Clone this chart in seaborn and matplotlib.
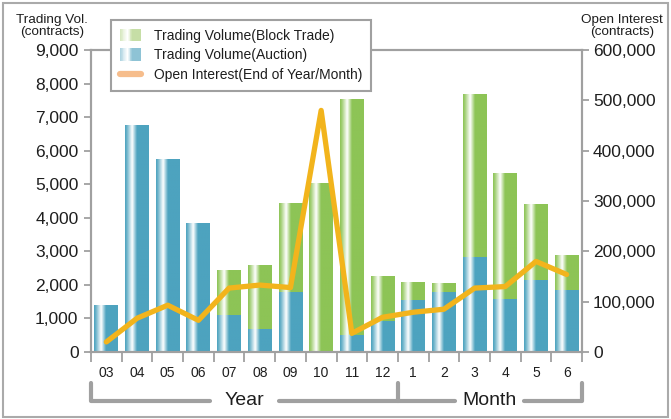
import numpy as np
import pandas as pd
import matplotlib.pyplot as plt
import matplotlib.transforms as mtransforms
import seaborn as sns
from matplotlib.patches import Rectangle
from matplotlib.lines import Line2D
from matplotlib.legend_handler import HandlerBase
from matplotlib.colors import to_rgb
from matplotlib.ticker import FuncFormatter

# values
periods = ["03", "04", "05", "06", "07", "08", "09", "10", "11", "12",
           "1", "2", "3", "4", "5", "6"]
auction = [1400, 6750, 5750, 3830, 1100, 680, 1780, 0, 500, 900,
           1540, 1780, 2820, 1570, 2140, 1840]
block = [0, 0, 0, 0, 1330, 1900, 2640, 5020, 7010, 1360,
         540, 270, 4840, 3750, 2260, 1040]
open_interest = [20000, 67000, 93000, 63000, 127000, 133000, 128000, 480000, 37000,
                 69000, 79000, 85000, 127000, 130000, 180000, 154000]

df = pd.DataFrame({"period": periods, "auction": auction, "block": block,
                   "oi": open_interest})
df["total"] = df["auction"] + df["block"]
df["pos"] = np.arange(len(df))

BLUE = "#4da3bf"
GREEN = "#8dc456"
ORANGE = "#f2b41c"
GRAY = "#a0a0a0"
INK = "#1e1e1e"

sns.set_style("ticks")
plt.rcParams["font.family"] = ["Liberation Sans", "DejaVu Sans"]

fig = plt.figure(figsize=(6.71, 4.19), dpi=100)
ax = fig.add_axes([91 / 671, 1 - 352 / 419, (582 - 91) / 671, (352 - 50) / 419])

sns.barplot(data=df, x="period", y="total", color=GREEN, saturation=1, width=0.78, ax=ax)
sns.barplot(data=df, x="period", y="auction", color=BLUE, saturation=1, width=0.78, ax=ax)


def shine(color, n=64):
    t = np.linspace(0, 1, n)
    w = np.interp(t, [0, 0.08, 0.3, 0.5, 1], [0.0, 0.2, 1.0, 0.0, 0.0])
    c = np.array(to_rgb(color))
    row = c[None, :] * (1 - w[:, None]) + w[:, None]
    return row[None, :, :]


# swap flat bars for the shiny gradient look
for i, p in enumerate(list(ax.patches)):
    x0, y0 = p.get_x(), p.get_y()
    w, h = p.get_width(), p.get_height()
    if h <= 0:
        p.set_visible(False)
        continue
    col = GREEN if i < len(df) else BLUE
    ax.imshow(shine(col), extent=(x0, x0 + w, y0, y0 + h), aspect="auto",
              interpolation="bilinear", zorder=1 if i < len(df) else 2)
    p.set_visible(False)

ax.set_xlim(-0.5, len(df) - 0.5)
ax.set_ylim(0, 9000)
ax.set_yticks(np.arange(0, 9001, 1000))
ax.yaxis.set_major_formatter(FuncFormatter(lambda v, _: f"{int(v):,}"))
ax.set_xticks(df["pos"], periods)
ax.set_xticks(np.arange(-0.5, len(df)), minor=True)
ax.tick_params(axis="x", which="major", length=0, pad=10, labelsize=10, colors=INK)
ax.tick_params(axis="x", which="minor", length=7, width=1.3, color=GRAY)
ax.tick_params(axis="y", length=5, width=1.3, color=GRAY, labelsize=12.5, pad=4,
               labelcolor=INK)
ax.set_xlabel("")
ax.set_ylabel("")

ax2 = ax.twinx()
sns.lineplot(data=df, x="pos", y="oi", color=ORANGE, lw=3.8, ax=ax2,
             solid_joinstyle="round", solid_capstyle="round", zorder=5)
ax2.set_ylim(0, 600000)
ax2.set_yticks(np.arange(0, 600001, 100000))
ax2.yaxis.set_major_formatter(FuncFormatter(lambda v, _: f"{int(v):,}"))
ax2.tick_params(axis="y", length=5, width=1.3, color=GRAY, labelsize=12.5, pad=3,
                labelcolor=INK)
ax2.set_ylabel("")
ax2.set_xlabel("")
ax2.set_xlim(-0.5, len(df) - 0.5)

for a in (ax, ax2):
    for s in a.spines.values():
        s.set_color(GRAY)
        s.set_linewidth(1.5)
        s.set_visible(True)

fig.text(52 / 671, 1 - 26 / 419, "Trading Vol.\n(contracts)", ha="center", va="center",
         fontsize=9.7, linespacing=1.0, color=INK)
fig.text(622 / 671, 1 - 26 / 419, "Open Interest\n(contracts)", ha="center", va="center",
         fontsize=9.7, linespacing=1.0, color=INK)

# Year / Month brackets under the axis
tr = mtransforms.blended_transform_factory(ax.transData, ax.transAxes)
yb, ye, ym = -0.162, -0.103, -0.103
split = 9.5
segs = [([-0.5, -0.5, 3.38], [ye, yb, yb]),
        ([5.63, split], [yb, yb]),
        ([split, split], [ym, yb]),
        ([split, 11.36], [yb, yb]),
        ([13.61, 15.5, 15.5], [yb, yb, ye])]
for xs, ys in segs:
    ax.add_line(Line2D(xs, ys, transform=tr, color=GRAY, lw=3, clip_on=False,
                       solid_joinstyle="round"))
ax.text(4.5, yb, "Year", transform=tr, ha="center", va="center", fontsize=14,
        color=INK)
ax.text(12.48, yb, "Month", transform=tr, ha="center", va="center", fontsize=14,
        color=INK)


class GradHandler(HandlerBase):
    def create_artists(self, legend, orig_handle, xdescent, ydescent, width, height,
                       fontsize, trans):
        n = 24
        arts = []
        base = np.array(to_rgb(orig_handle.get_facecolor()))
        wts = np.interp(np.linspace(0, 1, n), [0, 0.35, 0.6, 1], [0.3, 1.0, 0.0, 0.0])
        for k in range(n):
            c = base * (1 - wts[k]) + wts[k]
            r = Rectangle((-xdescent + k * width / n, -ydescent - 1), width / n + 0.3,
                          height + 2, facecolor=c, edgecolor="none", transform=trans)
            arts.append(r)
        return arts


h_block = Rectangle((0, 0), 1, 1, facecolor="#c6dea6")
h_auc = Rectangle((0, 0), 1, 1, facecolor="#8ec3d5")
h_oi = Line2D([], [], color="#f6bd8c", lw=4.5, solid_capstyle="round")
leg = fig.legend([h_block, h_auc, h_oi],
                 ["Trading Volume(Block Trade)", "Trading Volume(Auction)",
                  "Open Interest(End of Year/Month)"],
                 loc="upper left", bbox_to_anchor=(111 / 671, 1 - 20 / 419),
                 borderaxespad=0, fontsize=10, handlelength=1.5, handletextpad=0.95,
                 labelspacing=0.38, frameon=True, fancybox=False, framealpha=1,
                 edgecolor="#a0a0a0", borderpad=0.65,
                 handler_map={h_block: GradHandler(), h_auc: GradHandler()})
leg.get_frame().set_linewidth(1.5)
for t in leg.get_texts():
    t.set_color(INK)

fig.add_artist(Rectangle((3 / 671, 2 / 419), 665 / 671, 414 / 419, transform=fig.transFigure,
                         fill=False, edgecolor="#aaaaaa", lw=1.5))

fig.savefig("out.png", dpi=100)
